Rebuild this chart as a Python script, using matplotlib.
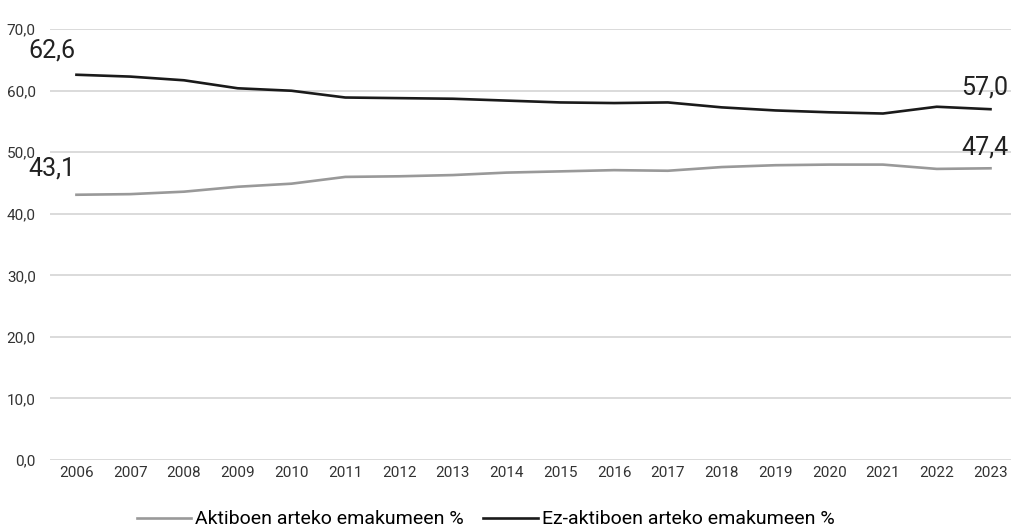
import matplotlib
matplotlib.use("Agg")
import matplotlib.pyplot as plt

years = [str(y) for y in range(2006, 2024)]
aktiboak = [43.1, 43.2, 43.6, 44.4, 44.9, 46.0, 46.1, 46.3, 46.7, 46.9,
            47.1, 47.0, 47.6, 47.9, 48.0, 48.0, 47.3, 47.4]
ez_aktiboak = [62.6, 62.3, 61.7, 60.4, 60.0, 58.9, 58.8, 58.7, 58.4, 58.1,
               58.0, 58.1, 57.3, 56.8, 56.5, 56.3, 57.4, 57.0]
yticks = [0, 10, 20, 30, 40, 50, 60, 70]
labels = ["Aktiboen arteko emakumeen %", "Ez-aktiboen arteko emakumeen %"]

plt.rcParams["font.family"] = ["Roboto", "DejaVu Sans"]

fig = plt.figure(figsize=(10.12, 5.31), dpi=100)
ax = fig.add_axes([0.049, 0.1337, 0.951, 0.8113])

x = range(len(years))
ax.plot(x, aktiboak, color="#999999", lw=1.9, label=labels[0])
ax.plot(x, ez_aktiboak, color="#1a1a1a", lw=1.9, label=labels[1])

ax.set_ylim(0, 70)
ax.set_xlim(-0.5, len(years) - 0.6)
ax.set_yticks(yticks)
ax.set_yticklabels([f"{v:.1f}".replace(".", ",") for v in yticks])
ax.set_xticks(list(x))
ax.set_xticklabels(years)
ax.tick_params(length=0, labelsize=11, colors="#333333")
ax.tick_params(axis="y", pad=10)
ax.tick_params(axis="x", pad=4)
ax.grid(axis="y", color="#d4d4d4", lw=1.2)
ax.set_axisbelow(True)
for s in ax.spines.values():
    s.set_visible(False)

def fmt(v):
    return f"{v:.1f}".replace(".", ",")

n = len(years) - 1
ax.annotate(fmt(ez_aktiboak[0]), (0, ez_aktiboak[0]), xytext=(-18, 9),
            textcoords="offset points", ha="center", va="bottom", fontsize=18, color="#222222")
ax.annotate(fmt(aktiboak[0]), (0, aktiboak[0]), xytext=(-18, 10),
            textcoords="offset points", ha="center", va="bottom", fontsize=18, color="#222222")
ax.annotate(fmt(ez_aktiboak[-1]), (n, ez_aktiboak[-1]), xytext=(13, 7),
            textcoords="offset points", ha="right", va="bottom", fontsize=18, color="#222222")
ax.annotate(fmt(aktiboak[-1]), (n, aktiboak[-1]), xytext=(13, 6),
            textcoords="offset points", ha="right", va="bottom", fontsize=18, color="#222222")

fig.legend(loc="lower center", bbox_to_anchor=(0.48, -0.028), ncol=2, frameon=False,
           fontsize=14, handlelength=2.8, handletextpad=0.2, columnspacing=1.0)

fig.savefig("out.png", dpi=100)
